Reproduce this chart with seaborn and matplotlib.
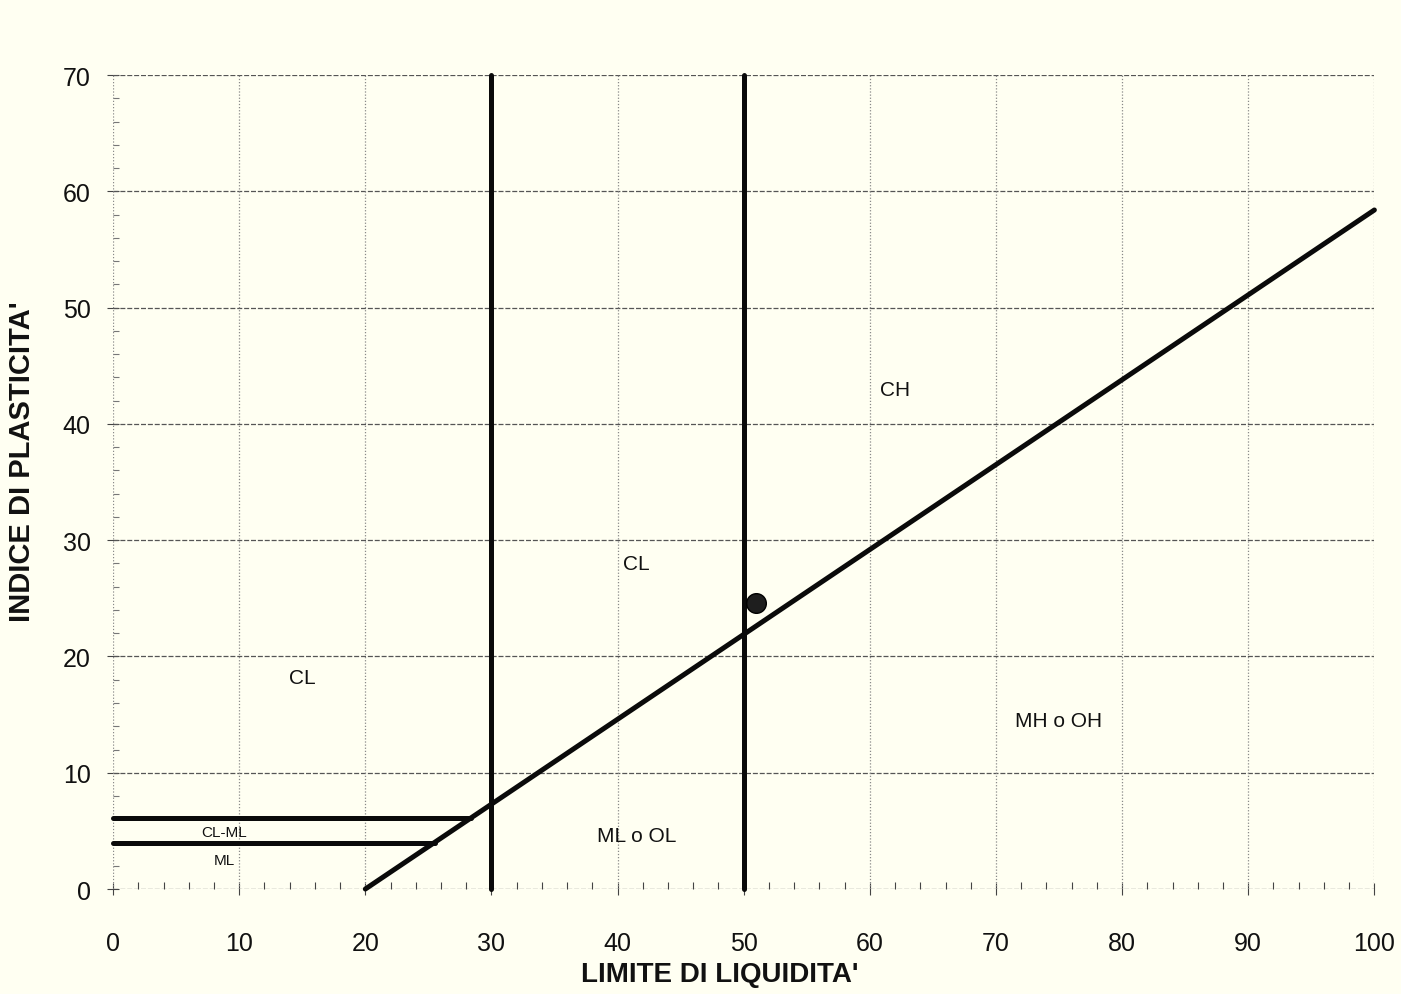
import matplotlib
matplotlib.use("Agg")
import matplotlib.pyplot as plt
import seaborn as sns
import pandas as pd
from matplotlib.ticker import MultipleLocator

# ---- data ----
a_line_ll = [20, 100]
a_line_pi = [0, 58.4]
ll30_ll = [30, 30]
ll30_pi = [0, 70]
ll50_ll = [50, 50]
ll50_pi = [0, 70]
clml_upper_ll = [0, 28.4]
clml_upper_pi = [6.1, 6.1]
clml_lower_ll = [0, 25.5]
clml_lower_pi = [4.0, 4.0]
sample_ll = [51.0]
sample_pi = [24.6]

zone_names = ["CL", "CL", "CH", "MH o OH", "ML o OL"]
zone_ll = [15.0, 41.5, 62.0, 75.0, 41.5]
zone_pi = [18.2, 28.0, 43.0, 14.5, 4.6]
small_names = ["CL-ML", "ML"]
small_ll = [8.8, 8.8]
small_pi = [4.9, 2.5]

x_ticks = [0, 10, 20, 30, 40, 50, 60, 70, 80, 90, 100]
y_ticks = [0, 10, 20, 30, 40, 50, 60, 70]
x_label = "LIMITE DI LIQUIDITA'"
y_label = "INDICE DI PLASTICITA'"

# ---- styling ----
sns.set_theme(style="white")
plt.rcParams["font.family"] = ["Liberation Sans", "DejaVu Sans"]
bg = "#fffff2"

fig = plt.figure(figsize=(14.01, 9.95), dpi=100, facecolor=bg)
ax = fig.add_axes([0.0807, 0.1055, 0.9003, 0.818])
ax.set_facecolor(bg)

lines = [
    (a_line_ll, a_line_pi),
    (ll30_ll, ll30_pi),
    (ll50_ll, ll50_pi),
    (clml_upper_ll, clml_upper_pi),
    (clml_lower_ll, clml_lower_pi),
]
for xs, ys in lines:
    df = pd.DataFrame({"LL": xs, "PI": ys})
    sns.lineplot(data=df, x="LL", y="PI", ax=ax, color="#0a0a0a", lw=3.6,
                 sort=False, estimator=None, clip_on=False, zorder=3)

sdf = pd.DataFrame({"LL": sample_ll, "PI": sample_pi})
sns.scatterplot(data=sdf, x="LL", y="PI", ax=ax, color="#1e1e1e", s=200,
                edgecolor="#000000", linewidth=1, zorder=4)

for n, x, y in zip(zone_names, zone_ll, zone_pi):
    ax.text(x, y, n, ha="center", va="center", fontsize=15, color="#111111")
for n, x, y in zip(small_names, small_ll, small_pi):
    ax.text(x, y, n, ha="center", va="center", fontsize=11, color="#111111")

ax.set_xlim(0, 100)
ax.set_ylim(0, 70)
ax.set_xticks(x_ticks)
ax.set_yticks(y_ticks)
ax.set_xticklabels([str(t) for t in x_ticks])
ax.set_yticklabels([str(t) for t in y_ticks])
ax.xaxis.set_minor_locator(MultipleLocator(2))
ax.yaxis.set_minor_locator(MultipleLocator(2))

# grid: horizontal dashed darker, vertical dotted lighter
ax.grid(False)
for yv in y_ticks:
    ax.axhline(yv, color="#555555", lw=0.9, ls=(0, (4, 1.5)), zorder=1)
for xv in x_ticks:
    ax.axvline(xv, color="#8a8a8a", lw=0.9, ls=(0, (1, 1.5)), zorder=1)

for s in ax.spines.values():
    s.set_visible(False)

ax.tick_params(axis="x", which="major", direction="inout", length=8, width=0.8,
               color="#444444", pad=26, labelsize=18, labelcolor="#111111",
               bottom=True)
ax.tick_params(axis="y", which="major", direction="inout", length=8, width=0.8,
               color="#444444", pad=12, labelsize=18, labelcolor="#111111",
               left=True)
ax.tick_params(axis="x", which="minor", direction="in", length=5, width=0.8,
               color="#444444", bottom=True)
ax.tick_params(axis="y", which="minor", direction="in", length=4, width=0.8,
               color="#777777", left=True)

ax.set_xlabel(x_label, fontsize=20, fontweight="bold", color="#111111")
ax.set_ylabel(y_label, fontsize=21, fontweight="bold", color="#111111")
ax.xaxis.set_label_coords(0.481, -0.088)
ax.yaxis.set_label_coords(-0.061, 0.526)

fig.savefig("out.png", dpi=100, facecolor=bg)
